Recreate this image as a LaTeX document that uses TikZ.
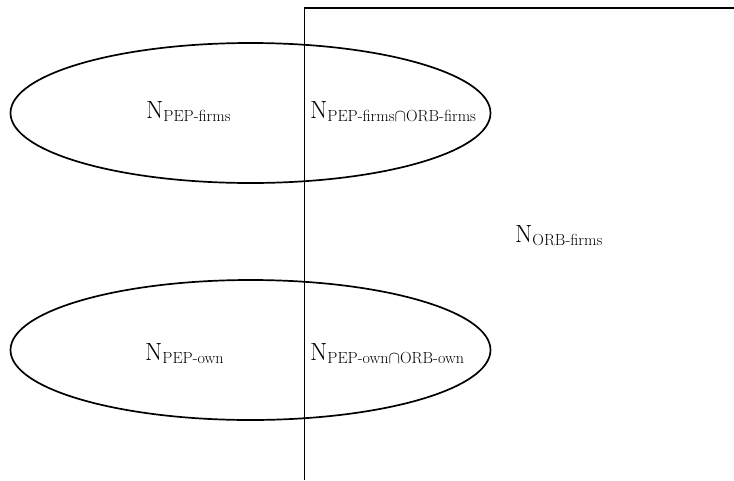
\documentclass[tikz,border=0pt]{standalone}
\usepackage{amsmath}
\usetikzlibrary{shapes.geometric}
\tikzset{
  setline/.style={line width=1.7pt, black},
  setshape/.style={setline, draw, ellipse, minimum width=480pt, minimum height=140pt, inner sep=0pt},
  setlabel/.style={anchor=base west, inner sep=0pt, font=\fontsize{23}{27}\selectfont}
}
\begin{document}
\begin{tikzpicture}[x=1pt, y=-1pt]
  \useasboundingbox (0,0) rectangle (734,480);
  % the two PEP sets
  \node[setshape] (pepfirms) at (250.5,113) {};
  \node[setshape] (pepown) at (250.5,350) {};
  % the ORB region: an open box to the right of the divider
  \coordinate (orbbottom) at (304.5,480);
  \coordinate (orbcorner) at (304.5,8);
  \coordinate (orbright) at (734,8);
  \draw[setline] (orbbottom) -- (orbcorner) -- (orbright);
  % labels
  \node[setlabel] (lpepfirms) at (146,118) {$\mathrm{N}_{\text{PEP-firms}}$};
  \node[setlabel] (lfirmscap) at (310,118) {$\mathrm{N}_{\text{PEP-firms$\cap$ORB-firms}}$};
  \node[setlabel] (lorbfirms) at (515,242) {$\mathrm{N}_{\text{ORB-firms}}$};
  \node[setlabel] (lpepown) at (145,360) {$\mathrm{N}_{\text{PEP-own}}$};
  \node[setlabel] (lowncap) at (310,360) {$\mathrm{N}_{\text{PEP-own$\cap$ORB-own}}$};
\end{tikzpicture}
\end{document}
